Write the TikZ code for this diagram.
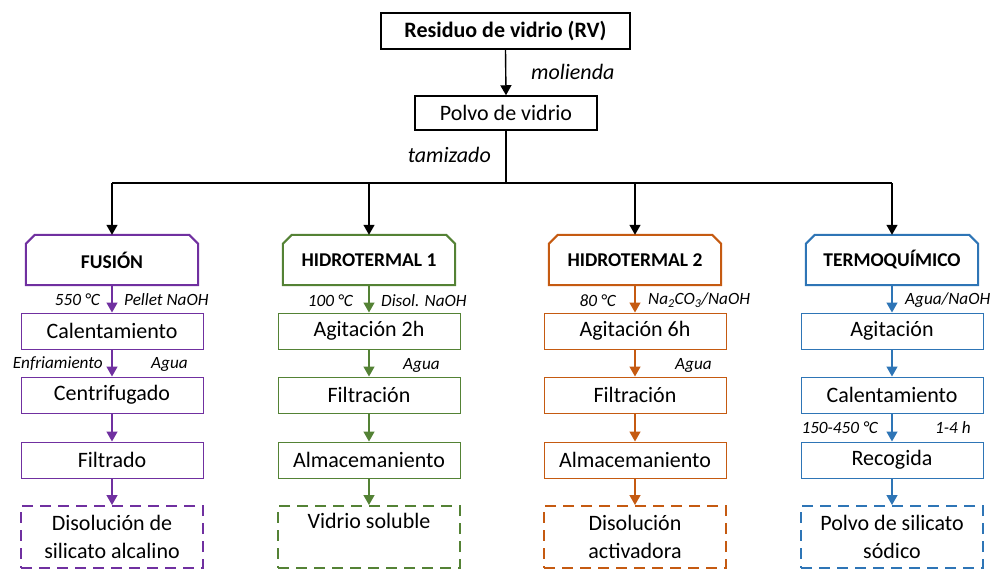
\documentclass[tikz,border=0pt]{standalone}
\usepackage{fontspec}
\setmainfont{Carlito}
\usetikzlibrary{arrows.meta,calc}
\definecolor{cpur}{HTML}{7030A0}
\definecolor{cgrn}{HTML}{548235}
\definecolor{corg}{HTML}{C55A11}
\definecolor{cblu}{HTML}{2E75B6}
\begin{document}
\begin{tikzpicture}[x=1pt,y=-1pt,
 main/.style={font=\fontsize{22}{28}\selectfont},
 stepbox/.style={draw=#1, line width=1pt, minimum width=182pt, minimum height=36pt, inner sep=0pt, main},
 endbox/.style={draw=#1, dash pattern=on 11pt off 7pt, line width=2pt, minimum width=182pt, minimum height=62pt, inner sep=0pt, align=center, main},
 headtext/.style={minimum width=172pt, minimum height=50pt, inner sep=0pt, font=\fontsize{19.5}{22}\selectfont\bfseries},
 headline/.style={draw=#1, line width=2pt, line join=miter},
 lab/.style={font=\fontsize{17.2}{19}\selectfont\itshape, inner sep=0pt},
 biglab/.style={font=\fontsize{22}{24}\selectfont\itshape, inner sep=0pt},
 arr/.style={-{Triangle[length=10pt,width=11pt]}, line width=1.4pt, draw=#1},
 arr/.default=black,
]
\useasboundingbox (0,0) rectangle (991,570);

% top part
\node[draw, line width=2pt, minimum width=249pt, minimum height=36pt, inner sep=0pt,
      font=\fontsize{22}{24}\selectfont\bfseries] (rv) at (505.5,31) {Residuo de vidrio (RV)};
\node[draw, line width=1.5pt, minimum width=182pt, minimum height=34pt, inner sep=0pt, main] (pv) at (506,113) {Polvo de vidrio};
\draw[arr] (rv.south) -- (pv.north);
\node[biglab, anchor=west] (mol) at (531,72) {molienda};
\node[biglab, anchor=east] (tam) at (491,155) {tamizado};

\coordinate (sp) at (506,183);
\coordinate (j1) at (112,183);
\coordinate (j2) at (369,183);
\coordinate (j3) at (635,183);
\coordinate (j4) at (892,183);
\draw[line width=1.4pt] (pv.south) -- (sp);
\draw[line width=1.4pt] (j1) -- (j4);

% headers
\node[headtext] (h1) at (112,260) {FUSIÓN};
\node[headtext] (h2) at (369,260) {HIDROTERMAL 1};
\node[headtext] (h3) at (635,260) {HIDROTERMAL 2};
\node[headtext] (h4) at (892,260) {TERMOQUÍMICO};
\foreach \h/\c in {h1/cpur,h2/cgrn,h3/corg,h4/cblu}{
  \draw[headline=\c] (\h.south west) -- ($(\h.north west)+(0,9)$) -- ($(\h.north west)+(9,0)$)
     -- ($(\h.north east)+(-9,0)$) -- ($(\h.north east)+(0,9)$) -- (\h.south east) -- cycle;
}
\draw[arr] (j1) -- (h1.north);
\draw[arr] (j2) -- (h2.north);
\draw[arr] (j3) -- (h3.north);
\draw[arr] (j4) -- (h4.north);

% column 1
\node[stepbox=cpur] (a1) at (112,331) {Calentamiento};
\node[stepbox=cpur] (b1) at (112,395) {Centrifugado};
\node[stepbox=cpur] (c1) at (112,460) {Filtrado};
\node[endbox=cpur] (d1) at (112,537) {\raisebox{-2pt}{\parbox{180pt}{\centering Disolución de\\silicato alcalino}}};
\draw[arr=cpur] (h1.south) -- (a1.north);
\draw[arr=cpur] (a1.south) -- (b1.north);
\draw[arr=cpur] (b1.south) -- (c1.north);
\draw[arr=cpur] (c1.south) -- (d1.north);
\node[lab, anchor=east] (l11) at (100,300) {550 °C};
\node[lab, anchor=west] (l12) at (124,300) {Pellet NaOH};
\node[lab, anchor=east] (l13) at (103,364) {Enfriamiento};
\node[lab, anchor=west] (l14) at (151,364) {Agua};

% column 2
\node[stepbox=cgrn] (a2) at (369,331) {Agitación 2h};
\node[stepbox=cgrn] (b2) at (369,395) {Filtración};
\node[stepbox=cgrn] (c2) at (369,460) {Almacemaniento};
\node[endbox=cgrn] (d2) at (369,537) {\raisebox{-2pt}{\parbox{180pt}{\centering Vidrio soluble\\\phantom{Vy}}}};
\draw[arr=cgrn] (h2.south) -- (a2.north);
\draw[arr=cgrn] (a2.south) -- (b2.north);
\draw[arr=cgrn] (b2.south) -- (c2.north);
\draw[arr=cgrn] (c2.south) -- (d2.north);
\node[lab, anchor=east] (l21) at (353,301) {100 °C};
\node[lab, anchor=west] (l22) at (381,301) {Disol. NaOH};
\node[lab, anchor=west] (l23) at (403,365) {Agua};

% column 3
\node[stepbox=corg] (a3) at (635,331) {Agitación 6h};
\node[stepbox=corg] (b3) at (635,395) {Filtración};
\node[stepbox=corg] (c3) at (635,460) {Almacemaniento};
\node[endbox=corg] (d3) at (635,537) {\raisebox{-2pt}{\parbox{180pt}{\centering Disolución\\activadora}}};
\draw[arr=corg] (h3.south) -- (a3.north);
\draw[arr=corg] (a3.south) -- (b3.north);
\draw[arr=corg] (b3.south) -- (c3.north);
\draw[arr=corg] (c3.south) -- (d3.north);
\node[lab, anchor=east] (l31) at (616,301) {80 °C};
\node[lab, anchor=west] (l32) at (648,300) {Na\textsubscript{2}CO\textsubscript{3}/NaOH};
\node[lab, anchor=west] (l33) at (675,365) {Agua};

% column 4
\node[stepbox=cblu] (a4) at (892,331) {Agitación};
\node[stepbox=cblu] (b4) at (892,395) {Calentamiento};
\node[stepbox=cblu] (c4) at (892,460) {Recogida};
\node[endbox=cblu] (d4) at (892,537) {\raisebox{-2pt}{\parbox{180pt}{\centering Polvo de silicato\\sódico}}};
\draw[arr=cblu] (h4.south) -- (a4.north);
\draw[arr=cblu] (a4.south) -- (b4.north);
\draw[arr=cblu] (b4.south) -- (c4.north);
\draw[arr=cblu] (c4.south) -- (d4.north);
\node[lab, anchor=west] (l41) at (905,300) {Agua/NaOH};
\node[lab, anchor=east] (l42) at (878,428) {150-450 °C};
\node[lab, anchor=west] (l43) at (935,428) {1-4 h};
\end{tikzpicture}
\end{document}
